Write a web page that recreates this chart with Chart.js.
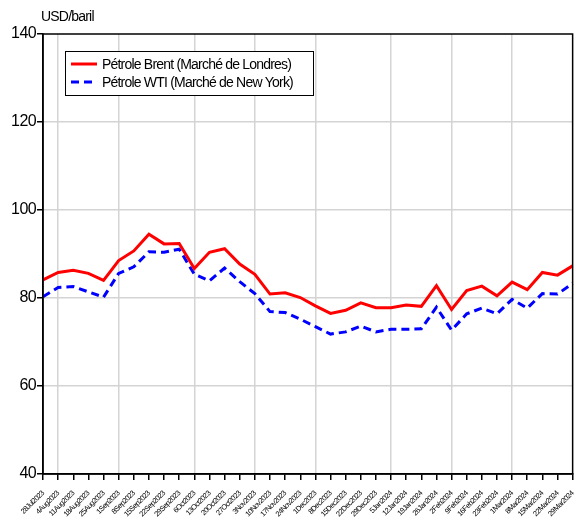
<!DOCTYPE html>
<html>
<head>
<meta charset="utf-8">
<script src="https://cdn.jsdelivr.net/npm/chart.js@4.4.1/dist/chart.umd.min.js"></script>
<style>
  html, body { margin: 0; padding: 0; background: #fff; }
  #wrap { position: relative; width: 588px; height: 520px; }
</style>
</head>
<body>
<div id="wrap"><canvas id="oilChart" width="588" height="520"></canvas></div>
<script>
// semaines (vendredi)
const labels = [
  '28Jul2023', '4Aug2023', '11Aug2023', '18Aug2023', '25Aug2023', '1Sep2023', '8Sep2023', '15Sep2023',
  '22Sep2023', '29Sep2023', '6Oct2023', '13Oct2023', '20Oct2023', '27Oct2023', '3Nov2023', '10Nov2023',
  '17Nov2023', '24Nov2023', '1Dec2023', '8Dec2023', '15Dec2023', '22Dec2023', '29Dec2023', '5Jan2024',
  '12Jan2024', '19Jan2024', '26Jan2024', '2Feb2024', '9Feb2024', '16Feb2024', '23Feb2024', '1Mar2024',
  '8Mar2024', '15Mar2024', '22Mar2024', '29Mar2024'
];

const brent = [
  84.1, 85.8, 86.3, 85.6, 84.0, 88.5, 90.7, 94.5,
  92.3, 92.4, 86.7, 90.4, 91.2, 87.7, 85.4, 80.9,
  81.2, 80.1, 78.2, 76.5, 77.2, 78.9, 77.8, 77.8,
  78.4, 78.1, 82.8, 77.4, 81.7, 82.7, 80.5, 83.6,
  81.9, 85.8, 85.2, 87.3
];

const wti = [
  80.3, 82.4, 82.6, 81.4, 80.2, 85.6, 87.1, 90.5,
  90.4, 91.1, 85.4, 83.9, 86.8, 83.7, 81.0, 76.9,
  76.7, 75.2, 73.5, 71.8, 72.3, 73.6, 72.3, 72.9,
  72.9, 73.0, 77.9, 72.7, 76.4, 77.7, 76.4, 79.7,
  77.7, 81.0, 80.9, 83.3
];

const yTicks = [40, 60, 80, 100, 120, 140];
// premiere semaine de chaque mois -> ligne de grille
const monthStarts = [1, 5, 10, 14, 18, 23, 27, 31];

const seriesNames = ['Pétrole Brent (Marché de Londres)', 'Pétrole WTI (Marché de New York)'];

const FONT = "'Liberation Sans', Arial, sans-serif";

// cadre + titre + legende
const framePlugin = {
  id: 'frame',
  beforeDraw(chart) {
    chart.ctx.letterSpacing = '-0.6px';
  },
  afterDraw(chart) {
    const ctx = chart.ctx;
    const a = chart.chartArea;
    ctx.save();
    ctx.strokeStyle = '#000';
    ctx.lineWidth = 1.5;
    ctx.strokeRect(a.left, a.top, a.right - a.left, a.bottom - a.top);

    ctx.fillStyle = '#000';
    ctx.letterSpacing = '-0.8px';
    ctx.font = '14px ' + FONT;
    ctx.textBaseline = 'middle';
    ctx.textAlign = 'left';
    ctx.fillText('USD/baril', 41, 17);

    // legende
    const lx = 65, ly = 51, lw = 248, lh = 44;
    ctx.fillStyle = '#fff';
    ctx.fillRect(lx, ly, lw, lh);
    ctx.lineWidth = 1;
    ctx.strokeStyle = '#000';
    ctx.strokeRect(lx + 0.5, ly + 0.5, lw, lh);

    const rows = [
      { y: 64, color: '#ff0000', dash: [] },
      { y: 82, color: '#0000ff', dash: [8, 5] }
    ];
    rows.forEach((r, i) => {
      ctx.beginPath();
      ctx.setLineDash(r.dash);
      ctx.lineWidth = 3;
      ctx.strokeStyle = r.color;
      ctx.moveTo(71, r.y);
      ctx.lineTo(97, r.y);
      ctx.stroke();
      ctx.setLineDash([]);
      ctx.fillStyle = '#000';
      ctx.font = '14px ' + FONT;
      ctx.fillText(seriesNames[i], 102, r.y + 1);
    });
    ctx.restore();
  }
};

const ctx = document.getElementById('oilChart').getContext('2d');
new Chart(ctx, {
  type: 'line',
  data: {
    labels: labels,
    datasets: [{
      label: seriesNames[0],
      data: brent,
      borderColor: '#ff0000',
      borderWidth: 3,
      pointRadius: 0,
      tension: 0
    }, {
      label: seriesNames[1],
      data: wti,
      borderColor: '#0000ff',
      borderWidth: 3,
      borderDash: [8, 5],
      pointRadius: 0,
      tension: 0
    }]
  },
  options: {
    responsive: false,
    animation: false,
    devicePixelRatio: 1,
    layout: { padding: { top: 34, right: 13, left: 0, bottom: 0 } },
    plugins: {
      legend: { display: false },
      tooltip: { enabled: false }
    },
    scales: {
      x: {
        offset: false,
        grid: {
          color: c => monthStarts.includes(c.index) ? '#d4d4d4' : 'rgba(0,0,0,0)',
          lineWidth: 1.5,
          tickColor: '#000',
          tickLength: 6,
          drawTicks: true
        },
        border: { display: true, color: '#000', width: 1.5 },
        ticks: {
          autoSkip: false,
          minRotation: 45,
          maxRotation: 45,
          padding: 9,
          color: '#000',
          font: { family: FONT, size: 7.5 }
        },
        afterFit(scale) { scale.height = 46; }
      },
      y: {
        min: 40,
        max: 140,
        afterBuildTicks(scale) { scale.ticks = yTicks.map(v => ({ value: v })); },
        grid: {
          color: c => (c.tick.value === 40 || c.tick.value === 140) ? 'rgba(0,0,0,0)' : '#d4d4d4',
          lineWidth: 1.5,
          tickColor: '#000',
          tickLength: 6
        },
        border: { display: true, color: '#000', width: 1.5 },
        ticks: {
          color: '#000',
          padding: 1,
          font: { family: FONT, size: 16 }
        },
        afterFit(scale) { scale.width = 43; }
      }
    }
  },
  plugins: [framePlugin]
});
</script>
</body>
</html>
